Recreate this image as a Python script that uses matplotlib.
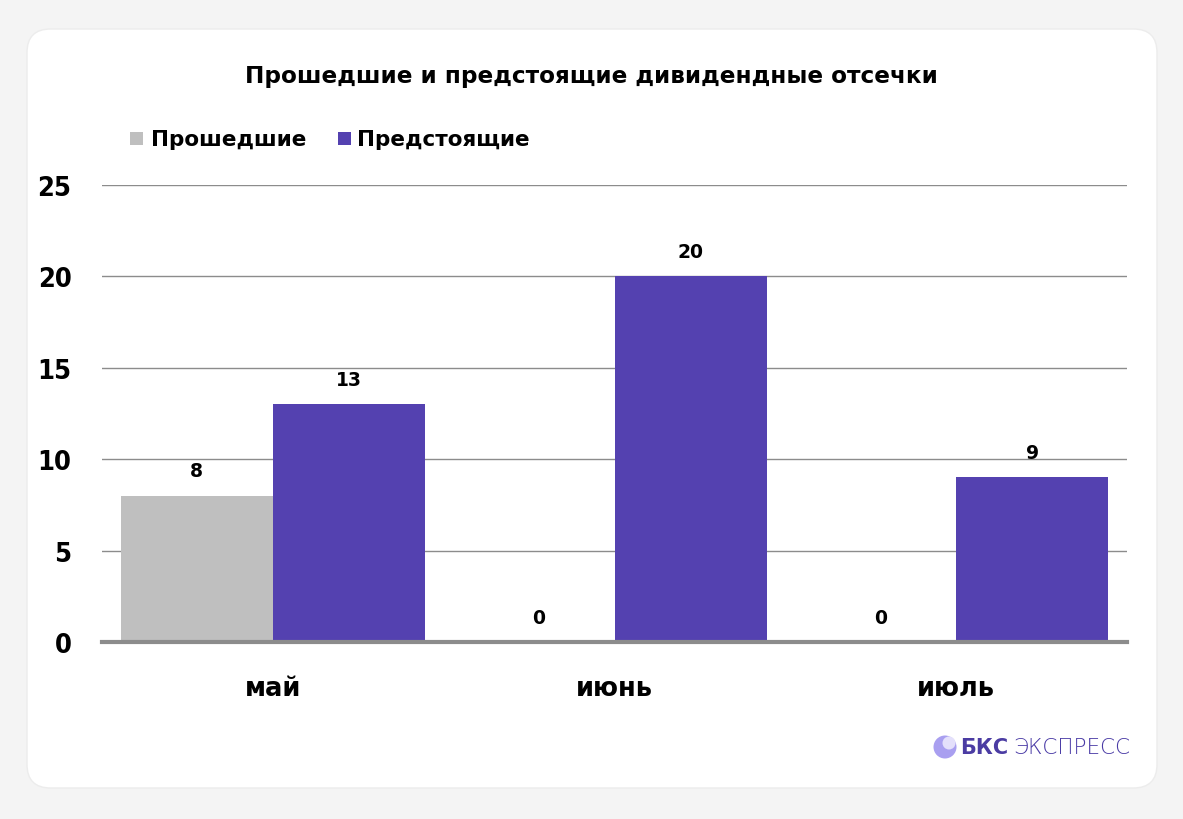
import matplotlib
matplotlib.use("Agg")
import matplotlib.pyplot as plt
from matplotlib.patches import FancyBboxPatch, Ellipse, Rectangle
import numpy as np

categories = ["май", "июнь", "июль"]
past = [8, 0, 0]
upcoming = [13, 20, 9]
series_names = ["Прошедшие", "Предстоящие"]
yticks = [0, 5, 10, 15, 20, 25]
title = "Прошедшие и предстоящие дивидендные отсечки"

GRAY = "#bfbfbf"
PURPLE = "#5441b0"

plt.rcParams['font.family'] = ["DejaVu Sans"]

W, H = 1183, 820
fig = plt.figure(figsize=(W / 100, H / 100), dpi=100)
fig.patch.set_facecolor("#f4f4f4")

card = FancyBboxPatch((27 / W, 1 - 789 / H), (1157 - 27) / W, (789 - 30) / H,
                      boxstyle="round,pad=0,rounding_size=0.02",
                      transform=fig.transFigure, facecolor="white",
                      edgecolor="#ececec", linewidth=1, zorder=-5,
                      mutation_aspect=W / H)
fig.patches.append(card)

ax = fig.add_axes([102 / W, 1 - 643 / H, (1127 - 102) / W, (643 - 186) / H])
ax.set_zorder(2)
ax.set_facecolor("none")
x = np.arange(len(categories))
bw = 0.445
b1 = ax.bar(x - bw / 2, past, bw, color=GRAY, zorder=3)
b2 = ax.bar(x + bw / 2, upcoming, bw, color=PURPLE, zorder=3)
ax.set_xlim(-0.5, len(categories) - 0.5)
ax.set_ylim(0, 25)
ax.set_yticks(yticks)
ax.yaxis.grid(True, color="#8c8c8c", linewidth=1)
ax.set_axisbelow(True)
for s in ["top", "right", "left"]:
    ax.spines[s].set_visible(False)
ax.spines["bottom"].set_color("#8c8c8c")
ax.spines["bottom"].set_linewidth(3)
ax.spines["bottom"].set_zorder(4)
ax.tick_params(axis="y", length=0, pad=22)
ax.tick_params(axis="x", length=0, pad=24)
ax.set_xticks(x)
ax.set_xticklabels(categories, fontsize=18.5, fontweight="bold")
for lab in ax.get_yticklabels():
    lab.set_fontstretch("condensed")
    lab.set_fontweight("bold")
    lab.set_fontsize(19.5)
for bars in (b1, b2):
    ax.bar_label(bars, padding=11, fontsize=13.5, fontweight="bold")

fig.text(0.5, 1 - 77 / H, title, ha="center", va="center", fontsize=16.7, fontweight="bold")

# legend
sq = 13
fig.patches.append(Rectangle((130 / W, 1 - 146 / H), sq / W, sq / H, transform=fig.transFigure,
                             facecolor=GRAY, edgecolor="none"))
fig.text(151 / W, 1 - 140 / H, series_names[0], ha="left", va="center", fontsize=15.5, fontweight="bold")
fig.patches.append(Rectangle((338 / W, 1 - 146 / H), sq / W, sq / H, transform=fig.transFigure,
                             facecolor=PURPLE, edgecolor="none"))
fig.text(357 / W, 1 - 140 / H, series_names[1], ha="left", va="center", fontsize=15.5, fontweight="bold")

# logo
fig.patches.append(Ellipse((945 / W, 1 - 748 / H), 23 / W, 23 / H, transform=fig.transFigure,
                           facecolor="#a99ff0", edgecolor="none"))
fig.patches.append(Ellipse((949 / W, 1 - 744 / H), 13 / W, 13 / H, transform=fig.transFigure,
                           facecolor="#e4e0fb", edgecolor="none"))
fig.text(960 / W, 1 - 748 / H, "БКС", ha="left", va="center", fontsize=15,
         fontweight="bold", color="#4b3ca3")
fig.text(1013 / W, 1 - 748 / H, "ЭКСПРЕСС", ha="left", va="center", fontsize=15.5,
         fontweight="light", color="#4a3ba6")

fig.savefig("out.png", dpi=100, facecolor=fig.get_facecolor())
